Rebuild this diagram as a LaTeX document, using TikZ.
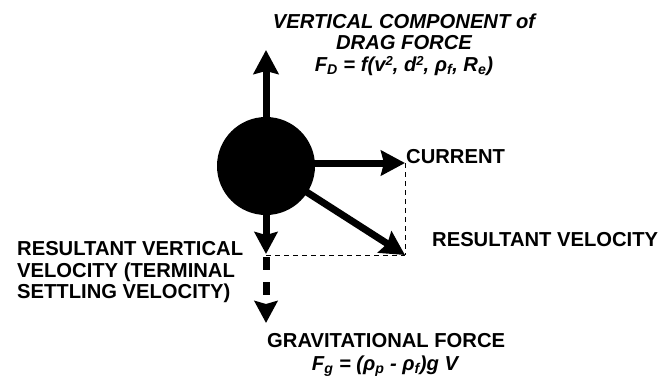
\documentclass[tikz,border=0pt]{standalone}
\usepackage{fontspec}
\setmainfont{Liberation Sans}
\usetikzlibrary{arrows.meta}
\newcommand{\mysup}[1]{\raisebox{5.5pt}{\fontsize{13}{13}\selectfont #1}}
\begin{document}
\begin{tikzpicture}[x=1pt,y=-1pt,
  lbl/.style={inner sep=0pt,font=\fontsize{20.2}{22}\selectfont\bfseries},
  ilbl/.style={lbl,font=\fontsize{20.2}{22}\selectfont\bfseries\itshape},
  bigarrow/.style={line width=7pt,-{Stealth[length=24pt,width=25pt,inset=3pt]}},
  smallhead/.style={line width=7pt,-{Stealth[length=22pt,width=23pt,inset=3pt]}},
  guide/.style={line width=0.9pt,dash pattern=on 5pt off 4pt},
  ballstyle/.style={circle,fill=black,minimum size=98pt,inner sep=0pt}]
\useasboundingbox (0,0) rectangle (669,376);
\coordinate (c) at (266,166);
\coordinate (uptip) at (266,50);
\coordinate (curtip) at (405,163);
\coordinate (rtip) at (405,255);
\coordinate (dtip) at (266,254);
\coordinate (corner) at (266,255);
\coordinate (gstart) at (266,257);
\coordinate (gtip) at (266,323);
% guides
\draw[guide] (curtip) -- (rtip);
\draw[guide] (corner) -- (rtip);
% arrows
\draw[bigarrow] (c) -- (uptip);
\draw[bigarrow] (c |- curtip) -- (curtip);
\draw[bigarrow] (c) -- (rtip);
\draw[smallhead] (c) -- (dtip);
\draw[smallhead,dash pattern=on 13pt off 12pt] (gstart) -- (gtip);
% ball
\node[ballstyle] (ball) at (c) {};
% labels
\node[ilbl,anchor=base] (t1) at (404,28) {VERTICAL COMPONENT of};
\node[ilbl,anchor=base] (t2) at (404,49) {DRAG FORCE};
\node[ilbl,anchor=base,text height=14pt] (t3) at (404,71) {F\textsubscript{D} = f(v\mysup{2}, d\mysup{2}, ρ\textsubscript{f}, R\textsubscript{e})};
\node[lbl,anchor=base west] (cur) at (406,163) {CURRENT};
\node[lbl,anchor=base west] (rv) at (432,246) {RESULTANT VELOCITY};
\node[lbl,anchor=base west] (l1) at (17,255) {RESULTANT VERTICAL};
\node[lbl,anchor=base west] (l2) at (17,277) {VELOCITY (TERMINAL};
\node[lbl,anchor=base west] (l3) at (17,298) {SETTLING VELOCITY)};
\node[lbl,anchor=base west] (g1) at (267,347) {GRAVITATIONAL FORCE};
\node[ilbl,anchor=base] (g2) at (385,370) {F\textsubscript{g} = (ρ\textsubscript{p} - ρ\textsubscript{f})g V};
\end{tikzpicture}
\end{document}
